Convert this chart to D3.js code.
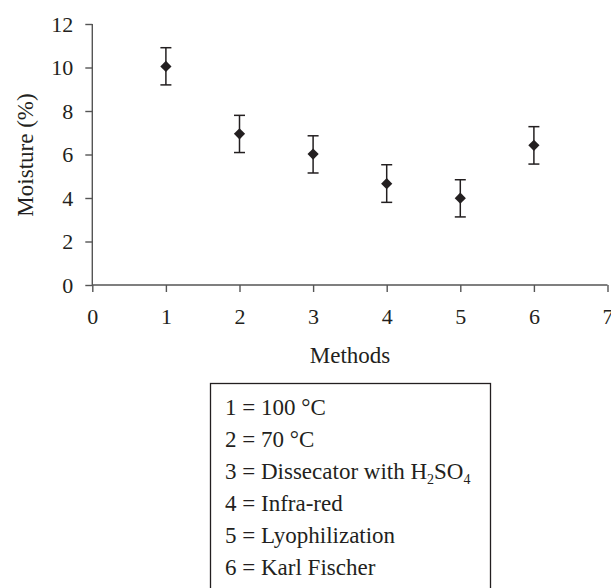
<!DOCTYPE html>
<html><head><meta charset="utf-8">
<script src="https://cdn.jsdelivr.net/npm/d3@7"></script>
<style>body{margin:0;background:#fff}svg{display:block}</style>
</head><body>
<script>
const methods = [1, 2, 3, 4, 5, 6];
const moisture = [10.05, 6.95, 6.02, 4.66, 3.99, 6.42];
const errLow = [0.85, 0.86, 0.87, 0.86, 0.86, 0.86];
const errHigh = [0.86, 0.85, 0.84, 0.87, 0.85, 0.86];
const xTicks = [0, 1, 2, 3, 4, 5, 6, 7];
const yTicks = [0, 2, 4, 6, 8, 10, 12];
const legendLines = [
  ["1 = 100 °C"],
  ["2 = 70 °C"],
  ["3 = Dissecator with H", "2", "SO", "4"],
  ["4 = Infra-red"],
  ["5 = Lyophilization"],
  ["6 = Karl Fischer"]
];

const W = 611, H = 588;
const font = "'Liberation Serif', 'DejaVu Serif', serif";
const col = "#231f20";
const axCol = "#555";
const svg = d3.select("body").append("svg").attr("width", W).attr("height", H);
const x = d3.scaleLinear().domain([0, 7]).range([92.3, 607.5]);
const y = d3.scaleLinear().domain([0, 12]).range([285, 24]);

const gx = svg.append("g").attr("transform", `translate(0,${y(0)})`)
  .call(d3.axisBottom(x).tickValues(xTicks).tickSize(7).tickPadding(16).tickFormat(d3.format("d")));
const gy = svg.append("g").attr("transform", `translate(${x(0)},0)`)
  .call(d3.axisLeft(y).tickValues(yTicks).tickSize(7).tickPadding(12).tickFormat(d3.format("d")));
[gx, gy].forEach(g => {
  g.select(".domain").attr("stroke", axCol).attr("stroke-width", 1.4);
  g.selectAll(".tick line").attr("stroke", axCol).attr("stroke-width", 1.4);
  g.selectAll("text").attr("font-family", font).attr("font-size", 22).attr("fill", col);
});
gx.select(".domain").attr("d", `M${x(0)},0H${x(7)}`);
gy.select(".domain").attr("d", `M0,${y(12)}V${y(0)}`);

const data = methods.map((m, i) => ({m, v: moisture[i], lo: moisture[i] - errLow[i], hi: moisture[i] + errHigh[i]}));
const g = svg.append("g");
const cap = 5.5;
data.forEach(d => {
  const cx = x(d.m);
  g.append("line").attr("x1", cx).attr("x2", cx).attr("y1", y(d.lo)).attr("y2", y(d.hi)).attr("stroke", col).attr("stroke-width", 1.5);
  g.append("line").attr("x1", cx - cap).attr("x2", cx + cap).attr("y1", y(d.lo)).attr("y2", y(d.lo)).attr("stroke", col).attr("stroke-width", 1.5);
  g.append("line").attr("x1", cx - cap).attr("x2", cx + cap).attr("y1", y(d.hi)).attr("y2", y(d.hi)).attr("stroke", col).attr("stroke-width", 1.5);
  g.append("path").attr("d", d3.symbol(d3.symbolDiamond2, 80)()).attr("transform", `translate(${cx},${y(d.v)})`).attr("fill", col);
});

svg.append("text").attr("transform", `translate(33,155) rotate(-90)`)
  .attr("text-anchor", "middle")
  .attr("font-family", font).attr("font-size", 23).attr("fill", col).text("Moisture (%)");
svg.append("text").attr("x", 350).attr("y", 363).attr("text-anchor", "middle")
  .attr("font-family", font).attr("font-size", 23).attr("fill", col).text("Methods");

svg.append("rect").attr("x", 210.5).attr("y", 383.5).attr("width", 280).attr("height", 215)
  .attr("fill", "none").attr("stroke", col).attr("stroke-width", 1.3);
legendLines.forEach((parts, i) => {
  const t = svg.append("text").attr("x", 225).attr("y", 415 + i * 32)
    .attr("font-family", font).attr("font-size", 23).attr("fill", col);
  parts.forEach((p, j) => {
    const ts = t.append("tspan").text(p);
    if (j % 2 === 1) ts.attr("font-size", 14).attr("dy", 5);
    else if (j > 0) ts.attr("dy", -5);
  });
});
</script>
</body></html>
